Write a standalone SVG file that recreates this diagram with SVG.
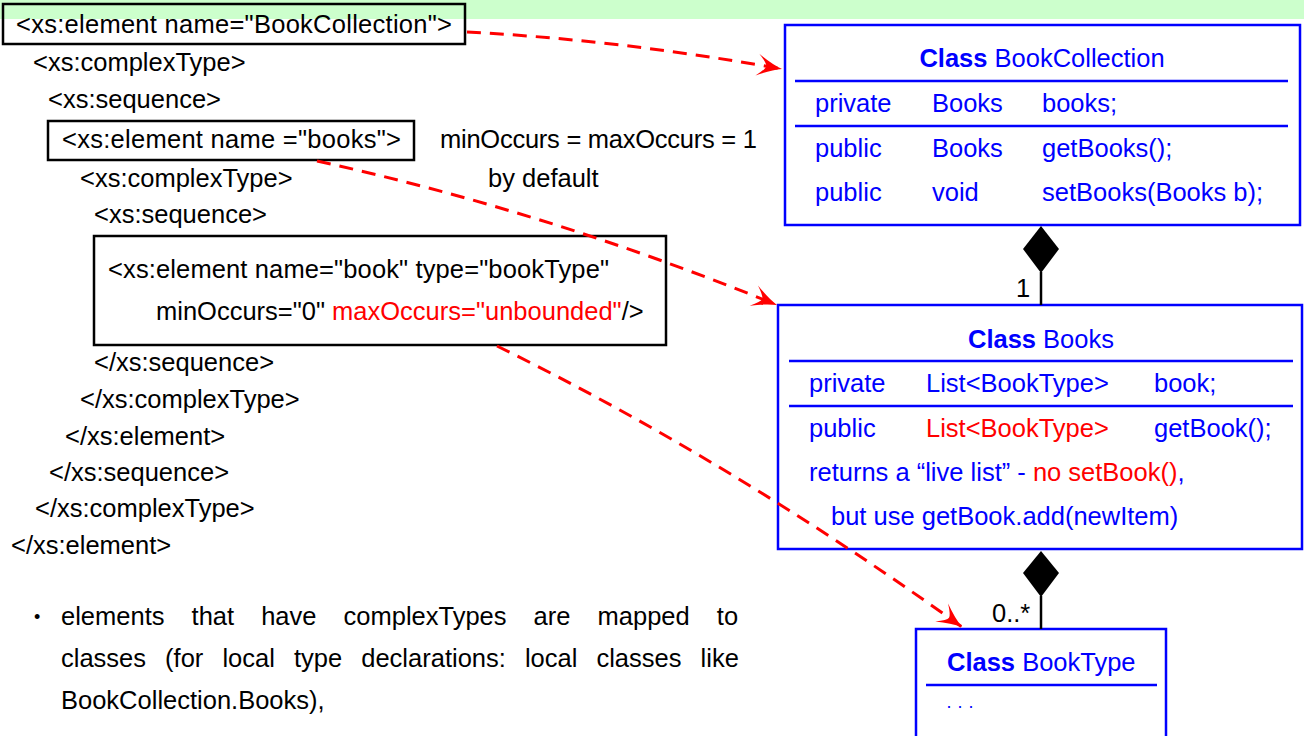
<svg xmlns="http://www.w3.org/2000/svg" width="1304" height="736" viewBox="0 0 1304 736">
<defs>
<style>
text{font-family:"Liberation Sans",Arial,Helvetica,sans-serif;font-size:25.5px;fill:#000}
.b{fill:#0000ff}
.r{fill:#ff0000}
.bold{font-weight:bold}
.box{fill:none;stroke:#000;stroke-width:2.5}
.ubox{fill:#fff;stroke:#0000ff;stroke-width:2.5}
.sep{stroke:#0000ff;stroke-width:2.5}
.dash{fill:none;stroke:#ff0000;stroke-width:3;stroke-dasharray:14 9}
.comp{stroke:#000;stroke-width:2.5}
.dia{fill:#000}
</style>
<marker id="ah" markerUnits="userSpaceOnUse" markerWidth="32" markerHeight="28" viewBox="-28 -14 30 28" refX="0" refY="0" orient="auto">
<path d="M0,0 Q-11,-3 -25,-11 Q-16,-3 -16,0 Q-16,3 -25,11 Q-11,3 0,0 Z" fill="#ff0000"/>
</marker>
</defs>
<rect x="0" y="0" width="1304" height="19" fill="#ccffcc"/>
<g id="xml-code">
<rect class="box" x="3" y="4" width="462" height="40"/>
<text x="16" y="33" textLength="436">&lt;xs:element name="BookCollection"&gt;</text>
<text x="33" y="71">&lt;xs:complexType&gt;</text>
<text x="48" y="108">&lt;xs:sequence&gt;</text>
<rect class="box" x="48" y="121" width="366" height="39"/>
<text x="62" y="148" textLength="339">&lt;xs:element name ="books"&gt;</text>
<text x="80" y="187">&lt;xs:complexType&gt;</text>
<text x="94" y="223">&lt;xs:sequence&gt;</text>
<rect class="box" x="94" y="236" width="572" height="109"/>
<text x="108" y="278" textLength="501">&lt;xs:element name="book" type="bookType"</text>
<text x="156" y="320">minOccurs="0" <tspan class="r">maxOccurs="unbounded"</tspan>/&gt;</text>
<text x="94" y="371">&lt;/xs:sequence&gt;</text>
<text x="80" y="408">&lt;/xs:complexType&gt;</text>
<text x="65" y="445">&lt;/xs:element&gt;</text>
<text x="49" y="481">&lt;/xs:sequence&gt;</text>
<text x="35" y="517">&lt;/xs:complexType&gt;</text>
<text x="11" y="554">&lt;/xs:element&gt;</text>
</g>
<g id="note">
<text x="440" y="148" textLength="317">minOccurs = maxOccurs = 1</text>
<text x="488" y="187">by default</text>
</g>
<g id="bullet">
<text x="34" y="623" style="font-size:18px">•</text>
<text x="61" y="625" word-spacing="20">elements that have complexTypes are mapped to</text>
<text x="61" y="667" word-spacing="12">classes (for local type declarations: local classes like</text>
<text x="61" y="709">BookCollection.Books),</text>
</g>
<g id="class-bookcollection">
<rect class="ubox" x="785" y="25" width="515" height="200"/>
<text class="b" x="1042" y="67" text-anchor="middle"><tspan class="bold">Class</tspan> BookCollection</text>
<line class="sep" x1="795" y1="81" x2="1288" y2="81"/>
<text class="b" x="815" y="112">private</text>
<text class="b" x="932" y="112">Books</text>
<text class="b" x="1042" y="112">books;</text>
<line class="sep" x1="795" y1="126" x2="1288" y2="126"/>
<text class="b" x="815" y="157">public</text>
<text class="b" x="932" y="157">Books</text>
<text class="b" x="1042" y="157">getBooks();</text>
<text class="b" x="815" y="201">public</text>
<text class="b" x="932" y="201">void</text>
<text class="b" x="1042" y="201">setBooks(Books b);</text>
</g>
<g id="class-books">
<rect class="ubox" x="778" y="305" width="524" height="244"/>
<text class="b" x="1041" y="348" text-anchor="middle"><tspan class="bold">Class</tspan> Books</text>
<line class="sep" x1="789" y1="361" x2="1293" y2="361"/>
<text class="b" x="809" y="392">private</text>
<text class="b" x="926" y="392">List&lt;BookType&gt;</text>
<text class="b" x="1154" y="392">book;</text>
<line class="sep" x1="789" y1="406" x2="1293" y2="406"/>
<text class="b" x="809" y="437">public</text>
<text class="r" x="926" y="437">List&lt;BookType&gt;</text>
<text class="b" x="1154" y="437">getBook();</text>
<text class="b" x="809" y="481">returns a “live list” - <tspan class="r">no setBook()</tspan>,</text>
<text class="b" x="831" y="525">but use getBook.add(newItem)</text>
</g>
<g id="class-booktype">
<rect class="ubox" x="916" y="629" width="250" height="120"/>
<text class="b" x="947" y="671"><tspan class="bold">Class</tspan> BookType</text>
<line class="sep" x1="926" y1="685" x2="1157" y2="685"/>
<text class="b" x="946" y="712" style="font-size:18px">· · ·</text>
</g>
<g id="connectors">
<path class="dash" d="M467,32 Q620,40 782,69" marker-end="url(#ah)"/>
<path class="dash" d="M317,161 Q546,211 777,305" marker-end="url(#ah)"/>
<path class="dash" d="M497,346 Q729,460 962,627" marker-end="url(#ah)"/>
<line class="comp" x1="1041" y1="272" x2="1041" y2="305"/>
<path class="dia" d="M1041,226 L1059,249 L1041,273 L1023,249 Z"/>
<text x="1016" y="297">1</text>
<line class="comp" x1="1041" y1="596" x2="1041" y2="629"/>
<path class="dia" d="M1041,551 L1059,573 L1041,597 L1023,573 Z"/>
<text x="992" y="622">0..*</text>
</g>
</svg>
